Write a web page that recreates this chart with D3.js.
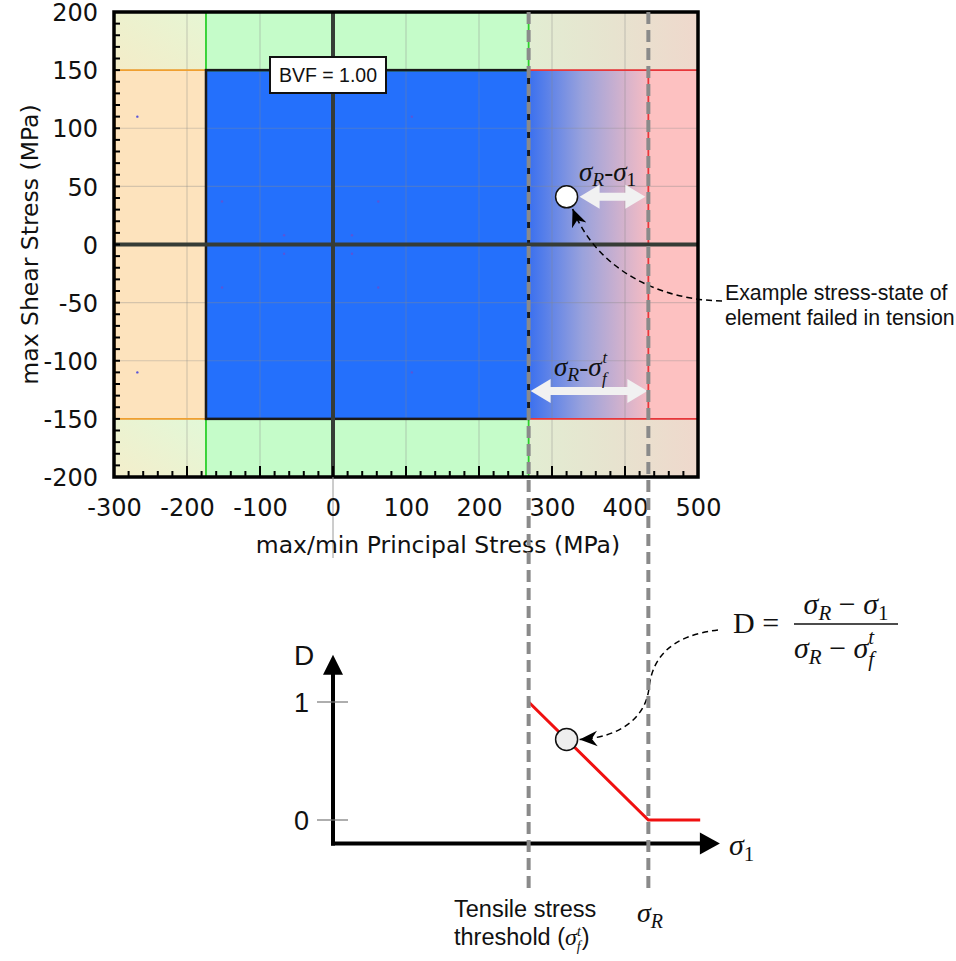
<!DOCTYPE html>
<html>
<head>
<meta charset="utf-8">
<script src="https://cdn.jsdelivr.net/npm/d3@7"></script>
<style>
  html, body { margin: 0; padding: 0; background: #fff; }
  svg { display: block; }
  .tick-label { font-family: "DejaVu Sans", sans-serif; font-size: 24px; fill: #111; }
  .axis-title { font-family: "DejaVu Sans", sans-serif; font-size: 23.5px; fill: #111; }
  .note { font-family: "Liberation Sans", Arial, sans-serif; fill: #111; }
  .math { font-family: "Liberation Serif", "DejaVu Serif", serif; fill: #111; }
</style>
</head>
<body>
<svg id="chart" width="956" height="961"></svg>
<script>
// ---- Failure envelope (MPa) ----
const xTicks = [-300, -200, -100, 0, 100, 200, 300, 400, 500];
const yTicks = [200, 150, 100, 50, 0, -50, -100, -150, -200];
const xGrid = [-200, -100, 100, 200, 300, 400];
const yGrid = [150, 100, 50, -50, -100, -150];
const compLimit = -174;      // compressive limit
const tensThreshold = 268;   // tensile stress threshold sigma_f^t
const tensStrength = 432;    // sigma_R
const shearLimit = 150;      // max shear stress
const bvfLabel = "BVF = 1.00";

// Sampled element stress states (principal stress, shear stress)
const stateSigma = [-268, -268, -152, -152, -67, -67, 26, 26, 62, 62, 108, 108];
const stateTau   = [110, -110, 37, -37, 8, -8, 8, -8, 37, -37, 110, -110];

// Example stress state of an element failed in tension
const exampleSigma1 = 320;
const exampleTau = 41;

// Damage law D(sigma_1)
const damageSigma = [tensThreshold, tensStrength, 503];
const damageD = [1, 0, 0];
const damageTicks = [0, 1];

const svg = d3.select("#chart");
const x = d3.scaleLinear().domain([-300, 500]).range([114, 698]);
const y = d3.scaleLinear().domain([-200, 200]).range([477, 12]);
const dY = d3.scaleLinear().domain([0, 1]).range([820, 702]);

const defs = svg.append("defs");
function lin(id, x1, y1, x2, y2, stops) {
  const g = defs.append("linearGradient").attr("id", id)
    .attr("x1", x1).attr("y1", y1).attr("x2", x2).attr("y2", y2);
  stops.forEach(([o, c]) => g.append("stop").attr("offset", o).attr("stop-color", c));
}
lin("gTL", 0, 1, 1, 0, [[0, "#f4ecc8"], [1, "#e6f6d4"]]);
lin("gBL", 0, 1, 1, 0, [[0, "#f4eecb"], [1, "#e2f8d8"]]);
lin("gTR", 0, 0, 1, 0, [[0, "#e2edd2"], [0.5, "#e7e3cf"], [1, "#efd8cc"]]);
lin("gBR", 0, 0, 1, 0, [[0, "#e2edd2"], [0.5, "#e7e3cf"], [1, "#efd8cc"]]);
lin("gMid", 0, 0, 1, 0, [[0, "#3a70ef"], [0.45, "#9aa2dc"], [1, "#f6bcc3"]]);

defs.append("marker").attr("id", "barb")
  .attr("markerUnits", "userSpaceOnUse").attr("markerWidth", 20).attr("markerHeight", 20)
  .attr("viewBox", "0 -8 18 16").attr("refX", 16).attr("refY", 0).attr("orient", "auto")
  .append("path").attr("d", "M0,-7 L16,0 L0,7 L5,0 Z").attr("fill", "#000");

defs.append("clipPath").attr("id", "plotClip").append("rect")
  .attr("x", x(-300)).attr("y", y(200)).attr("width", x(500) - x(-300)).attr("height", y(-200) - y(200));

const plot = svg.append("g").attr("clip-path", "url(#plotClip)");

function region(x0, x1, y0, y1, fill) {
  plot.append("rect").attr("x", x(x0)).attr("y", y(y1))
    .attr("width", x(x1) - x(x0)).attr("height", y(y0) - y(y1)).attr("fill", fill);
}
// regions of the envelope
region(-300, compLimit, shearLimit, 200, "url(#gTL)");
region(-300, compLimit, -200, -shearLimit, "url(#gBL)");
region(tensThreshold, 500, shearLimit, 200, "url(#gTR)");
region(tensThreshold, 500, -200, -shearLimit, "url(#gBR)");
region(compLimit, tensThreshold, shearLimit, 200, "#c5fcc9");
region(compLimit, tensThreshold, -200, -shearLimit, "#c5fcc9");
region(-300, compLimit, -shearLimit, shearLimit, "#fde3bd");
region(tensStrength, 500, -shearLimit, shearLimit, "#fdc1c1");
region(tensThreshold, tensStrength, -shearLimit, shearLimit, "url(#gMid)");
region(compLimit, tensThreshold, -shearLimit, shearLimit, "#2470fc");

// grid
plot.selectAll(".gx").data(xGrid).join("line")
  .attr("x1", d => x(d)).attr("x2", d => x(d)).attr("y1", y(200)).attr("y2", y(-200))
  .attr("stroke", "#8a8a8a").attr("stroke-opacity", 0.35).attr("stroke-width", 1.2);
plot.selectAll(".gy").data(yGrid).join("line")
  .attr("x1", x(-300)).attr("x2", x(500)).attr("y1", d => y(d)).attr("y2", d => y(d))
  .attr("stroke", "#8a8a8a").attr("stroke-opacity", 0.35).attr("stroke-width", 1.2);

// envelope edges
function seg(a, b, c, d, color, w) {
  plot.append("line").attr("x1", x(a)).attr("y1", y(b)).attr("x2", x(c)).attr("y2", y(d))
    .attr("stroke", color).attr("stroke-width", w);
}
seg(-300, shearLimit, compLimit, shearLimit, "#f0a030", 1.8);
seg(-300, -shearLimit, compLimit, -shearLimit, "#f0a030", 1.8);
seg(-299, shearLimit, -299, -shearLimit, "#f0a030", 2);
seg(compLimit, shearLimit, tensThreshold, shearLimit, "#2bd02b", 2);
seg(compLimit, -shearLimit, tensThreshold, -shearLimit, "#2bd02b", 2);
seg(compLimit, shearLimit, compLimit, 200, "#2bd02b", 1.8);
seg(compLimit, -shearLimit, compLimit, -200, "#2bd02b", 1.8);
seg(tensThreshold, shearLimit, tensThreshold, 200, "#2bd02b", 1.8);
seg(tensThreshold, -shearLimit, tensThreshold, -200, "#2bd02b", 1.8);
seg(tensThreshold, shearLimit, 500, shearLimit, "#e8363a", 1.8);
seg(tensThreshold, -shearLimit, 500, -shearLimit, "#e8363a", 1.8);
seg(tensStrength, shearLimit, tensStrength, -shearLimit, "#e8363a", 1.8);
seg(tensThreshold, shearLimit, tensThreshold, -shearLimit, "#111", 2.5);
plot.append("rect").attr("x", x(compLimit)).attr("y", y(shearLimit))
  .attr("width", x(tensThreshold) - x(compLimit)).attr("height", y(-shearLimit) - y(shearLimit))
  .attr("fill", "none").attr("stroke", "#1a1a1a").attr("stroke-width", 2.5);

// zero axes
seg(0, 200, 0, -200, "#363c36", 4);
seg(-300, 0, 500, 0, "#363c36", 4);

// sampled stress states
plot.selectAll(".pt").data(stateSigma).join("circle")
  .attr("cx", d => x(d)).attr("cy", (d, i) => y(stateTau[i])).attr("r", 1.2)
  .attr("fill", "#5a55d8");

// inner minor ticks
const leftTicks = d3.range(-190, 200, 10);
svg.selectAll(".lt").data(leftTicks).join("line")
  .attr("x1", x(-300)).attr("x2", x(-300) + 6).attr("y1", d => y(d)).attr("y2", d => y(d))
  .attr("stroke", "#000").attr("stroke-width", 2);
const bottomTicks = d3.range(-280, 500, 20);
svg.selectAll(".bt").data(bottomTicks).join("line")
  .attr("x1", d => x(d)).attr("x2", d => x(d)).attr("y1", y(-200))
  .attr("y2", d => y(-200) - (d % 100 === 0 ? 11 : 6))
  .attr("stroke", "#000").attr("stroke-width", 2);

// frame
svg.append("rect").attr("x", x(-300)).attr("y", y(200))
  .attr("width", x(500) - x(-300)).attr("height", y(-200) - y(200))
  .attr("fill", "none").attr("stroke", "#000").attr("stroke-width", 3.5);

// thin guide below the zero line
svg.append("line").attr("x1", x(0)).attr("x2", x(0)).attr("y1", y(-200)).attr("y2", 558)
  .attr("stroke", "#9a9a9a").attr("stroke-width", 1);

// tick labels
const fmt = d => String(d);
const xAxis = svg.append("g").attr("transform", `translate(0,${y(-200)})`)
  .call(d3.axisBottom(x).tickValues(xTicks).tickSize(0).tickPadding(22).tickFormat(fmt));
xAxis.select(".domain").remove();
xAxis.selectAll("text").attr("class", "tick-label").attr("font-size", null).attr("font-family", null).attr("fill", null);
const yAxis = svg.append("g").attr("transform", `translate(${x(-300) - 16},0)`)
  .call(d3.axisLeft(y).tickValues(yTicks).tickSize(0).tickPadding(0).tickFormat(fmt));
yAxis.select(".domain").remove();
yAxis.selectAll("text").attr("class", "tick-label").attr("font-size", null).attr("font-family", null).attr("fill", null)
  .attr("dy", "0.36em");

svg.append("text").attr("class", "axis-title").attr("x", 438).attr("y", 553)
  .attr("text-anchor", "middle").text("max/min Principal Stress (MPa)");
svg.append("text").attr("class", "axis-title")
  .attr("transform", `translate(38,${y(0)}) rotate(-90)`)
  .attr("text-anchor", "middle").text("max Shear Stress (MPa)");

// BVF box
const bvf = svg.append("g");
bvf.append("rect").attr("x", 270).attr("y", 57).attr("width", 116).attr("height", 36)
  .attr("fill", "#fff").attr("stroke", "#111").attr("stroke-width", 2);
bvf.append("text").attr("class", "note").attr("x", 328).attr("y", 82)
  .attr("text-anchor", "middle").attr("font-size", 19.5).text(bvfLabel);

// double-headed arrows
function doubleArrow(xa, xb, yc) {
  const h = 4, H = 12, L = 20;
  const pts = [[xa, yc], [xa + L, yc - H], [xa + L, yc - h], [xb - L, yc - h], [xb - L, yc - H],
               [xb, yc], [xb - L, yc + H], [xb - L, yc + h], [xa + L, yc + h], [xa + L, yc + H]];
  svg.append("polygon").attr("points", pts.map(p => p.join(",")).join(" "))
    .attr("fill", "#f1f1f1");
}
doubleArrow(x(exampleSigma1) + 13, x(tensStrength) - 3, y(exampleTau));
doubleArrow(x(tensThreshold) + 2, x(tensStrength) - 1, y(-126));

// sigma labels for the arrows (script indices drawn as separate texts)
function sigmaLabel(xPos, yPos, size, sub2, sup2) {
  const t = svg.append("text").attr("class", "math").attr("x", xPos).attr("y", yPos).attr("font-size", size);
  t.append("tspan").attr("font-style", "italic").text("σ");
  t.append("tspan").attr("font-style", "italic").attr("font-size", size * 0.72).attr("dy", size * 0.2).text("R");
  t.append("tspan").attr("dy", -size * 0.2).text("-");
  t.append("tspan").attr("font-style", "italic").text("σ");
  if (sup2) {
    const w = t.node().getComputedTextLength();
    svg.append("text").attr("class", "math").attr("font-style", "italic").attr("font-size", size * 0.62)
      .attr("x", xPos + w + 1).attr("y", yPos - size * 0.48).text(sup2);
    svg.append("text").attr("class", "math").attr("font-style", "italic").attr("font-size", size * 0.62)
      .attr("x", xPos + w + 0.5).attr("y", yPos + size * 0.3).text(sub2);
  } else {
    t.append("tspan").attr("font-size", size * 0.72).attr("dy", size * 0.2).text(sub2);
  }
}
sigmaLabel(579, 181, 27, "1");
sigmaLabel(554, 376, 27, "f", "t");

// example state marker
svg.append("circle").attr("cx", x(exampleSigma1)).attr("cy", y(exampleTau)).attr("r", 11)
  .attr("fill", "#fff").attr("stroke", "#111").attr("stroke-width", 1.5);

// dashed callout to the example state
const cx0 = x(exampleSigma1), cy0 = y(exampleTau);
svg.append("path")
  .attr("d", `M722,301 C662,300 598,272 ${cx0 + 6},${cy0 + 12}`)
  .attr("fill", "none").attr("stroke", "#000").attr("stroke-width", 1.5)
  .attr("stroke-dasharray", "6,4").attr("marker-end", "url(#barb)");
const note = svg.append("text").attr("class", "note").attr("font-size", 21.3);
note.append("tspan").attr("x", 725).attr("y", 300).text("Example stress-state of");
note.append("tspan").attr("x", 725).attr("y", 325).text("element failed in tension");

// ---- Damage law ----
const axisY = dY(-0.2), axisTop = dY(1.4), axisRight = x(530);
svg.append("line").attr("x1", x(0)).attr("x2", x(0)).attr("y1", axisY + 2).attr("y2", axisTop + 18)
  .attr("stroke", "#000").attr("stroke-width", 4);
svg.append("polygon").attr("points", `${x(0) - 10},${axisTop + 20} ${x(0) + 10},${axisTop + 20} ${x(0)},${axisTop}`)
  .attr("fill", "#000");
svg.append("line").attr("x1", x(0) - 2).attr("x2", axisRight - 18).attr("y1", axisY).attr("y2", axisY)
  .attr("stroke", "#000").attr("stroke-width", 4);
svg.append("polygon").attr("points", `${axisRight - 20},${axisY - 11} ${axisRight - 20},${axisY + 11} ${axisRight},${axisY}`)
  .attr("fill", "#000");

svg.selectAll(".dt").data(damageTicks).join("line")
  .attr("x1", x(0) - 16).attr("x2", x(0) + 15).attr("y1", d => dY(d)).attr("y2", d => dY(d))
  .attr("stroke", "#777").attr("stroke-width", 1.2);
svg.selectAll(".dtl").data(damageTicks).join("text").attr("class", "note")
  .attr("x", x(0) - 24).attr("y", d => dY(d) + 10).attr("text-anchor", "end").attr("font-size", 27)
  .text(d => d);
svg.append("text").attr("class", "note").attr("x", 294).attr("y", 665).attr("font-size", 28).text("D");
const s1 = svg.append("text").attr("class", "math").attr("x", 729).attr("y", 855).attr("font-size", 30);
s1.append("tspan").attr("font-style", "italic").text("σ");
s1.append("tspan").attr("font-size", 21).attr("dy", 6).text("1");

// damage curve
const dLine = d3.line().x(d => x(d[0])).y(d => dY(d[1]));
svg.append("path").datum(damageSigma.map((s, i) => [s, damageD[i]]))
  .attr("d", dLine).attr("fill", "none").attr("stroke", "#f01010").attr("stroke-width", 3);

const exampleD = (tensStrength - exampleSigma1) / (tensStrength - tensThreshold);
svg.append("circle").attr("cx", x(exampleSigma1)).attr("cy", dY(exampleD)).attr("r", 11)
  .attr("fill", "#eeeeee").attr("stroke", "#111").attr("stroke-width", 1.5);

// dashed callout from the formula
const ex = x(exampleSigma1) + 13, ey = dY(exampleD);
svg.append("path")
  .attr("d", `M718,630 C668,636 652,660 649,688 C646,716 622,${ey - 2} ${ex},${ey}`)
  .attr("fill", "none").attr("stroke", "#000").attr("stroke-width", 1.5)
  .attr("stroke-dasharray", "6,4").attr("marker-end", "url(#barb)");

// formula D = (sigma_R - sigma_1) / (sigma_R - sigma_f^t)
const f = svg.append("g").attr("class", "math");
f.append("text").attr("class", "math").attr("x", 733).attr("y", 633).attr("font-size", 30).text("D =");
f.append("line").attr("x1", 794).attr("x2", 898).attr("y1", 624).attr("y2", 624)
  .attr("stroke", "#111").attr("stroke-width", 1.6);
const num = f.append("text").attr("class", "math").attr("x", 846).attr("y", 614)
  .attr("text-anchor", "middle").attr("font-size", 30);
num.append("tspan").attr("font-style", "italic").text("σ");
num.append("tspan").attr("font-style", "italic").attr("font-size", 21).attr("dy", 6).text("R");
num.append("tspan").attr("dy", -6).text(" − ");
num.append("tspan").attr("font-style", "italic").text("σ");
num.append("tspan").attr("font-size", 21).attr("dy", 6).text("1");
const den = f.append("text").attr("class", "math").attr("x", 794).attr("y", 658).attr("font-size", 30);
den.append("tspan").attr("font-style", "italic").text("σ");
den.append("tspan").attr("font-style", "italic").attr("font-size", 21).attr("dy", 6).text("R");
den.append("tspan").attr("dy", -6).text(" − ");
den.append("tspan").attr("font-style", "italic").text("σ");
den.append("tspan").attr("font-style", "italic").attr("font-size", 21).attr("dy", -14).text("t");
den.append("tspan").attr("font-style", "italic").attr("font-size", 21).attr("dx", -6).attr("dy", 22).text("f");

// dashed guides linking the envelope with the damage law
svg.selectAll(".guide").data([tensThreshold, tensStrength]).join("line")
  .attr("x1", d => x(d)).attr("x2", d => x(d)).attr("y1", y(200)).attr("y2", 890)
  .attr("stroke", "#8a8a8a").attr("stroke-width", 4).attr("stroke-dasharray", "12,6");

// labels under the guides
svg.append("text").attr("class", "note").attr("font-size", 23.5)
  .attr("x", 454).attr("y", 917).text("Tensile stress");
const th = svg.append("text").attr("class", "note").attr("font-size", 23.5)
  .attr("x", 454).attr("y", 945);
th.append("tspan").text("threshold (");
th.append("tspan").attr("font-family", "Liberation Serif, serif").attr("font-style", "italic").attr("font-size", 24).text("σ");
th.append("tspan").attr("font-family", "Liberation Serif, serif").attr("font-style", "italic").attr("font-size", 14).attr("dy", -9).text("t");
th.append("tspan").attr("font-family", "Liberation Serif, serif").attr("font-style", "italic").attr("font-size", 14).attr("dx", -4).attr("dy", 15).text("f");
th.append("tspan").attr("dy", -6).attr("dx", 1).text(")");
const sr = svg.append("text").attr("class", "math").attr("x", 637).attr("y", 922).attr("font-size", 28);
sr.append("tspan").attr("font-style", "italic").text("σ");
sr.append("tspan").attr("font-style", "italic").attr("font-size", 20).attr("dy", 6).text("R");
</script>
</body>
</html>
